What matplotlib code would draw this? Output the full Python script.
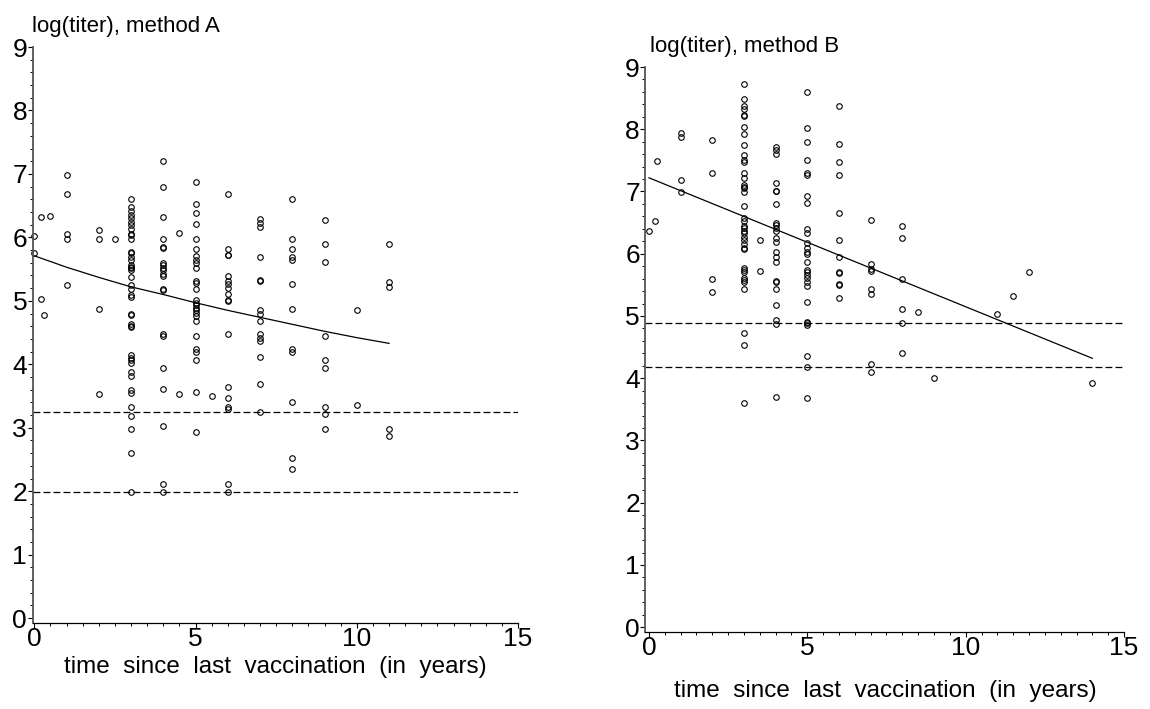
import matplotlib
matplotlib.use("Agg")
import matplotlib.pyplot as plt
from matplotlib.ticker import MultipleLocator

plt.rcParams['font.family'] = ['Liberation Sans', 'DejaVu Sans']

# method A: observed log titers, grouped by years since last vaccination
a_years = [0, 0.2, 0.3, 0.5, 1, 2, 2.5, 3, 4, 4.5, 5, 5.5, 6, 7, 8, 9, 10, 11]
a_titers = [
    [6.02, 5.75],
    [6.32, 5.03],
    [4.78],
    [6.33],
    [6.99, 6.69, 6.06, 5.98, 5.25],
    [6.11, 5.97, 4.87, 3.53],
    [5.98],
    [6.60, 6.48, 6.42, 6.36, 6.30, 6.25, 6.19, 6.13, 6.06, 6.04, 5.97, 5.77,
     5.75, 5.69, 5.64, 5.56, 5.53, 5.51, 5.48, 5.38, 5.25, 5.19, 5.09, 5.06,
     4.80, 4.77, 4.64, 4.61, 4.58, 4.14, 4.10, 4.07, 4.02, 3.88, 3.81, 3.60,
     3.54, 3.33, 3.18, 2.98, 2.60, 1.99],
    [7.20, 6.80, 6.32, 5.97, 5.85, 5.83, 5.60, 5.56, 5.52, 5.48, 5.43, 5.39,
     5.19, 5.17, 4.48, 4.45, 3.94, 3.61, 3.03, 2.12, 1.99],
    [6.07, 3.53],
    [6.87, 6.53, 6.38, 6.21, 5.98, 5.81, 5.70, 5.65, 5.59, 5.51, 5.32, 5.28,
     5.19, 5.01, 4.97, 4.93, 4.89, 4.85, 4.81, 4.76, 4.69, 4.44, 4.24, 4.19,
     4.06, 3.56, 2.93],
    [3.50],
    [6.69, 5.82, 5.73, 5.72, 5.39, 5.32, 5.27, 5.21, 5.11, 5.02, 5.00, 4.48,
     3.64, 3.47, 3.33, 3.30, 2.12, 1.99],
    [6.29, 6.23, 6.17, 5.69, 5.33, 5.31, 4.86, 4.80, 4.69, 4.47, 4.42, 4.37,
     4.12, 3.69, 3.25],
    [6.61, 5.97, 5.81, 5.69, 5.65, 5.27, 4.87, 4.24, 4.20, 3.40, 2.52, 2.35],
    [6.27, 5.90, 5.61, 4.45, 4.06, 3.94, 3.33, 3.22, 2.98],
    [4.85, 3.36],
    [5.90, 5.30, 5.22, 2.98, 2.87],
]
a_fit_x = [0, 1, 2, 3, 4, 5, 6, 7, 8, 9, 10, 11]
a_fit_y = [5.71, 5.53, 5.37, 5.22, 5.10, 4.97, 4.85, 4.74, 4.63, 4.52, 4.42, 4.33]
a_cutoffs = [3.25, 1.98]

# method B
b_years = [0, 0.2, 0.25, 1, 2, 3, 3.5, 4, 5, 6, 7, 8, 8.5, 9, 11, 11.5, 12, 14]
b_titers = [
    [6.36],
    [6.52],
    [7.49],
    [7.94, 7.87, 7.18, 6.99],
    [7.83, 7.29, 5.59, 5.38],
    [8.73, 8.49, 8.38, 8.33, 8.23, 8.22, 8.03, 7.93, 7.74, 7.59, 7.51, 7.48,
     7.29, 7.22, 7.11, 7.08, 7.05, 6.99, 6.77, 6.57, 6.53, 6.45, 6.41, 6.37,
     6.33, 6.27, 6.22, 6.16, 6.09, 6.07, 5.77, 5.74, 5.70, 5.61, 5.58, 5.54,
     5.43, 4.72, 4.54, 3.60],
    [6.22, 5.73],
    [7.71, 7.67, 7.60, 7.13, 7.01, 7.00, 6.80, 6.50, 6.46, 6.41, 6.36, 6.25,
     6.19, 6.03, 5.95, 5.86, 5.57, 5.54, 5.44, 5.18, 4.94, 4.87, 3.70],
    [8.60, 8.02, 7.80, 7.50, 7.29, 7.27, 6.93, 6.81, 6.39, 6.34, 6.17, 6.10,
     6.03, 6.00, 5.86, 5.74, 5.70, 5.66, 5.61, 5.55, 5.48, 5.22, 4.91, 4.88,
     4.86, 4.36, 4.18, 3.69],
    [8.37, 7.77, 7.48, 7.27, 6.66, 6.22, 5.94, 5.71, 5.69, 5.51, 5.50, 5.29],
    [6.55, 5.83, 5.75, 5.73, 5.43, 5.35, 4.23, 4.10],
    [6.45, 6.26, 5.59, 5.11, 4.89, 4.41],
    [5.06],
    [4.01],
    [5.03],
    [5.32],
    [5.71],
    [3.93],
]
b_fit_x = [0, 14]
b_fit_y = [7.22, 4.32]
b_cutoffs = [4.88, 4.18]

xticks = [0, 5, 10, 15]
yticks = list(range(10))
xlabel = 'time  since  last  vaccination  (in  years)'


def flatten(years, groups):
    xs, ys = [], []
    for yr, vals in zip(years, groups):
        xs += [yr] * len(vals)
        ys += vals
    return xs, ys


def draw_panel(ax, years, groups, fit_x, fit_y, cutoffs, xmin):
    xs, ys = flatten(years, groups)
    ax.plot(xs, ys, 'o', ms=4, mfc='none', mec='black', mew=0.8, clip_on=False)
    ax.plot(fit_x, fit_y, color='black', lw=0.9)
    for c in cutoffs:
        ax.axhline(c, color='black', lw=0.9, linestyle=(0, (5.5, 2.5)))

    ax.set_xlim(xmin, 15)
    ax.set_ylim(-0.07, 9)
    ax.set_xticks(xticks)
    ax.set_yticks(yticks)
    ax.xaxis.set_minor_locator(MultipleLocator(0.5))
    ax.yaxis.set_minor_locator(MultipleLocator(0.2))
    ax.tick_params(which='major', length=3.5, width=0.8, labelsize=19)
    ax.tick_params(which='minor', length=2.2, width=0.7)
    ax.tick_params(axis='x', pad=0)
    ax.tick_params(axis='y', pad=0.5)

    ax.spines['top'].set_visible(False)
    ax.spines['right'].set_visible(False)
    ax.spines['left'].set_color('#555555')
    ax.spines['left'].set_linewidth(1.3)
    ax.spines['bottom'].set_linewidth(0.9)


fig = plt.figure(figsize=(11.5, 7.09), dpi=100)

ax1 = fig.add_axes([0.0284, 0.1219, 0.4221, 0.8118])
draw_panel(ax1, a_years, a_titers, a_fit_x, a_fit_y, a_cutoffs, -0.05)

ax2 = fig.add_axes([0.5613, 0.1092, 0.4161, 0.7963])
draw_panel(ax2, b_years, b_titers, b_fit_x, b_fit_y, b_cutoffs, -0.11)

fig.text(32 / 1150, 1 - 32 / 709, 'log(titer), method A', fontsize=16,
         ha='left', va='baseline')
fig.text(650 / 1150, 1 - 52 / 709, 'log(titer), method B', fontsize=16,
         ha='left', va='baseline')
fig.text(275 / 1150, 1 - 667 / 709, xlabel, fontsize=17.5, ha='center', va='center')
fig.text(885 / 1150, 1 - 691 / 709, xlabel, fontsize=17.5, ha='center', va='center')

fig.savefig('out.png', dpi=100)
